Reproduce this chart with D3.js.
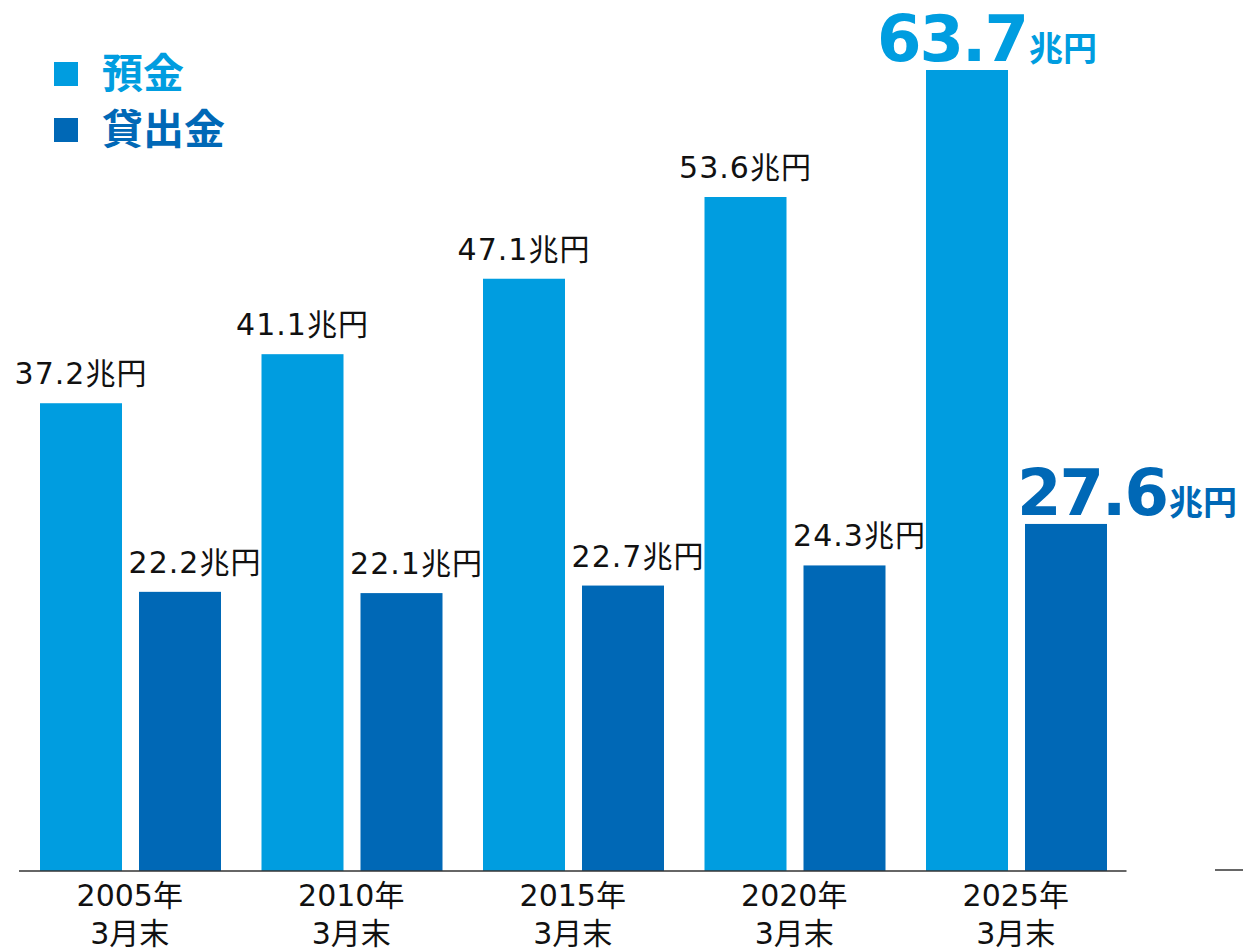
<!DOCTYPE html>
<html>
<head>
<meta charset="utf-8">
<script src="https://cdn.jsdelivr.net/npm/d3@7"></script>
<style>
  body { margin: 0; background: #fff; }
  svg text { font-family: "DejaVu Sans", "Noto Sans CJK JP", sans-serif; }
</style>
</head>
<body>
<div id="chart"></div>
<script>
// Data
var years = ["2005年", "2010年", "2015年", "2020年", "2025年"];
var subLabel = "3月末";
var series = ["預金", "貸出金"];
var deposits = [37.2, 41.1, 47.1, 53.6, 63.7];
var loans = [22.2, 22.1, 22.7, 24.3, 27.6];
var unit = "兆円";

var colors = ["#009de0", "#0068b6"];

var svgWidth = 1243;
var svgHeight = 950;
var baseY = 871;

var svg = d3.select("#chart")
    .append("svg")
    .attr("width", svgWidth)
    .attr("height", svgHeight);

// Scales
var x0 = d3.scaleBand()
    .domain(years)
    .range([19, 1126.5])
    .padding(0);

var x1 = d3.scaleBand()
    .domain(series)
    .range([21, 202])
    .paddingInner(17 / 99)
    .paddingOuter(0);

var yScale = d3.scaleLinear()
    .domain([0, 63.7])
    .range([baseY, 70]);

var rows = years.map(function(y, i) {
    return { year: y, values: [deposits[i], loans[i]], last: i === years.length - 1 };
});

var groups = svg.selectAll(".group")
    .data(rows)
    .enter()
    .append("g")
    .attr("transform", d => `translate(${x0(d.year)}, 0)`);

// Bars
groups.selectAll("rect")
    .data(d => d.values.map((v, j) => ({ key: series[j], value: v, j: j, last: d.last })))
    .enter()
    .append("rect")
    .attr("x", d => x1(d.key))
    .attr("y", d => yScale(d.value))
    .attr("width", x1.bandwidth())
    .attr("height", d => baseY - yScale(d.value))
    .attr("fill", d => colors[d.j]);

// Normal value labels
groups.selectAll(".val")
    .data(d => d.values.map((v, j) => ({ key: series[j], value: v, j: j, last: d.last }))
        .filter(d => !d.last))
    .enter()
    .append("text")
    .attr("class", "val")
    .attr("x", d => x1(d.key) + x1.bandwidth() / 2 + (d.j === 1 ? 15 : 0))
    .attr("y", d => yScale(d.value) - 19)
    .attr("text-anchor", "middle")
    .attr("font-size", "30px")
    .attr("letter-spacing", "1px")
    .attr("fill", "#111")
    .text(d => d.value.toFixed(1) + unit);

// Highlighted labels for the latest year
var bigDx = [20, 61];
groups.filter(d => d.last).each(function(d) {
    var g = d3.select(this);
    d.values.forEach(function(v, j) {
        var t = g.append("text")
            .attr("x", x1(series[j]) + x1.bandwidth() / 2 + bigDx[j])
            .attr("y", yScale(v) - 9)
            .attr("text-anchor", "middle")
            .attr("font-weight", "bold")
            .attr("fill", colors[j]);
        t.append("tspan")
            .attr("font-size", "64px")
            .attr("letter-spacing", "-2px")
            .text(v.toFixed(1));
        t.append("tspan")
            .attr("dx", "2")
            .attr("font-size", "34px")
            .text(unit);
    });
});

// Category labels
groups.append("text")
    .attr("x", x0.bandwidth() / 2)
    .attr("y", 906)
    .attr("text-anchor", "middle")
    .attr("font-size", "30px")
    .attr("fill", "#111")
    .text(d => d.year);

groups.append("text")
    .attr("x", x0.bandwidth() / 2)
    .attr("y", 944)
    .attr("text-anchor", "middle")
    .attr("font-size", "30px")
    .attr("fill", "#111")
    .text(subLabel);

// Baseline
svg.append("line")
    .attr("x1", x0.range()[0]).attr("x2", x0.range()[1])
    .attr("y1", baseY).attr("y2", baseY)
    .attr("stroke", "#333")
    .attr("stroke-width", 1.5);

svg.append("line")
    .attr("x1", 1215).attr("x2", 1243)
    .attr("y1", baseY - 1).attr("y2", baseY - 1)
    .attr("stroke", "#333")
    .attr("stroke-width", 1.5);

// Legend
var legend = svg.selectAll(".legend")
    .data(series)
    .enter()
    .append("g")
    .attr("transform", (d, i) => `translate(54, ${62 + i * 56})`);

legend.append("rect")
    .attr("width", 24)
    .attr("height", 24)
    .attr("fill", (d, i) => colors[i]);

legend.append("text")
    .attr("x", 48)
    .attr("y", 26)
    .attr("font-size", "41px")
    .attr("font-weight", "bold")
    .attr("fill", (d, i) => colors[i])
    .text(d => d);
</script>
</body>
</html>
